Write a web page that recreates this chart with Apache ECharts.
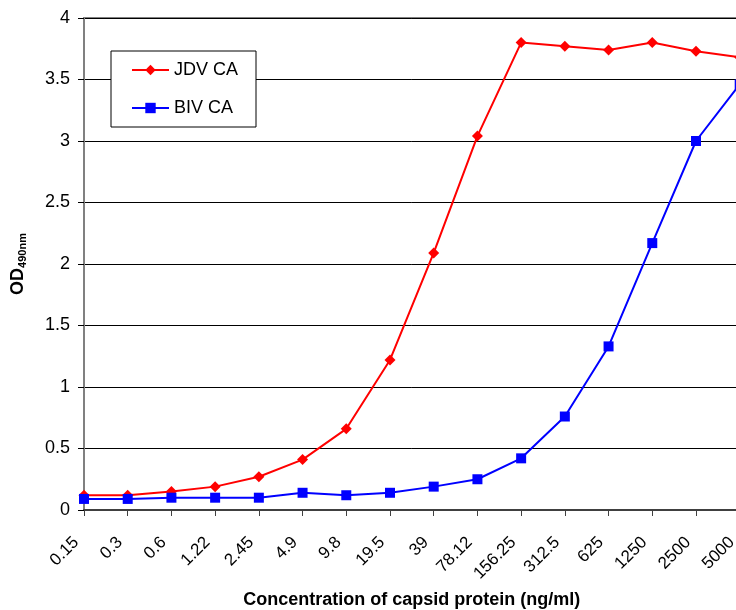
<!DOCTYPE html>
<html>
<head>
<meta charset="utf-8">
<script src="https://cdn.jsdelivr.net/npm/echarts@6/dist/echarts.min.js"></script>
<style>html,body{margin:0;padding:0;background:#fff;overflow:hidden;width:736px;height:610px;}#c{width:746px;height:610px;}</style>
</head>
<body>
<div id="c"></div>
<script>
var categories = ['0.15','0.3','0.6','1.22','2.45','4.9','9.8','19.5','39','78.12','156.25','312.5','625','1250','2500','5000'];
var jdvCA = [0.12,0.12,0.15,0.19,0.27,0.41,0.66,1.22,2.09,3.04,3.80,3.77,3.74,3.80,3.73,3.68];
var bivCA = [0.09,0.09,0.10,0.10,0.10,0.14,0.12,0.14,0.19,0.25,0.42,0.76,1.33,2.17,3.00,3.46];
var yTicks = [0,0.5,1,1.5,2,2.5,3,3.5,4];

var chart = echarts.init(document.getElementById('c'));
var font = 'Liberation Sans, Arial, sans-serif';
chart.setOption({
  animation: false,
  backgroundColor: '#fff',
  grid: {left: 84, top: 18, width: 655.7, height: 492, containLabel: false, outerBoundsMode: 'none',
    show: true, borderColor: '#808080', borderWidth: 2, backgroundColor: 'transparent'},
  legend: {
    left: 111, top: 51,
    orient: 'vertical',
    backgroundColor: '#fff', borderColor: '#000', borderWidth: 1,
    padding: [10, 18, 10, 20],
    itemGap: 20, itemWidth: 37, itemHeight: 13,
    textStyle: {fontFamily: font, fontSize: 18, color: '#000'},
    data: ['JDV CA', 'BIV CA']
  },
  xAxis: {
    type: 'category', data: categories, boundaryGap: false,
    axisLine: {lineStyle: {color: '#404040', width: 2}},
    axisTick: {show: true, length: 6, lineStyle: {color: '#404040'}},
    axisLabel: {rotate: 45, fontFamily: font, fontSize: 17, color: '#000', margin: 22, interval: 0, padding: [0, 11, 0, 0]},
    name: 'Concentration of capsid protein (ng/ml)', nameLocation: 'middle', nameGap: 81,
    nameTextStyle: {fontFamily: font, fontSize: 18, fontWeight: 'bold', color: '#000'}
  },
  yAxis: {
    type: 'value', min: 0, max: 4, interval: 0.5,
    axisLine: {show: true, lineStyle: {color: '#808080', width: 2}},
    axisTick: {show: true, length: 6, lineStyle: {color: '#000'}},
    axisLabel: {fontFamily: font, fontSize: 18, color: '#000', margin: 14,
      formatter: function (v) { return yTicks.indexOf(v) >= 0 ? String(v) : ''; }},
    splitLine: {show: true, lineStyle: {color: '#000', width: 1}},
    name: '{a|OD}{b|490nm}', nameLocation: 'middle', nameGap: 56, nameRotate: 90,
    nameTextStyle: {
      fontFamily: font, fontWeight: 'bold', color: '#000',
      rich: {
        a: {fontFamily: font, fontSize: 18, fontWeight: 'bold', color: '#000'},
        b: {fontFamily: font, fontSize: 11, fontWeight: 'bold', color: '#000', verticalAlign: 'bottom', padding: [8, 0, 0, 0]}
      }
    }
  },
  series: [
    {name: 'JDV CA', type: 'line', data: jdvCA, symbol: 'diamond', symbolSize: 11,
      lineStyle: {color: '#ff0000', width: 2}, itemStyle: {color: '#ff0000'}},
    {name: 'BIV CA', type: 'line', data: bivCA, symbol: 'rect', symbolSize: 10,
      lineStyle: {color: '#0000ff', width: 2}, itemStyle: {color: '#0000ff'}}
  ]
});
</script>
</body>
</html>
